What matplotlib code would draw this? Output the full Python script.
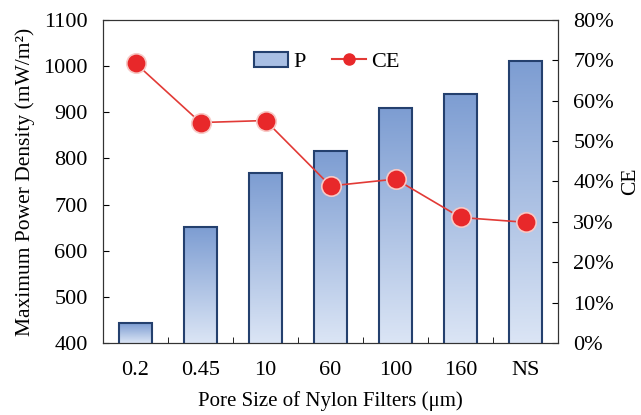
import numpy as np
import matplotlib
matplotlib.use("Agg")
import matplotlib.pyplot as plt
from matplotlib.colors import LinearSegmentedColormap
from matplotlib.ticker import FuncFormatter
from matplotlib.patches import Patch
from matplotlib.lines import Line2D

categories = ["0.2", "0.45", "10", "60", "100", "160", "NS"]
power = [443, 651, 768, 816, 909, 940, 1011]
ce = [69.3, 54.6, 55.1, 38.9, 40.6, 31.1, 29.9]

plt.rcParams['font.family'] = ['Liberation Serif', 'DejaVu Serif']

fig = plt.figure(figsize=(6.41, 4.15), dpi=100)
ax = fig.add_axes([103/641, 1-343/415, (558-103)/641, (343-20)/415])

x = np.arange(len(categories))
edge = '#24406e'
bars = ax.bar(x, power, width=0.51, bottom=0, facecolor='none', edgecolor=edge, linewidth=1.5, zorder=3)
cmap = LinearSegmentedColormap.from_list('g', ['#dbe5f5', '#7d9dd2'])
grad = np.linspace(0, 1, 256).reshape(-1, 1)
for b in bars:
    x0, w, h = b.get_x(), b.get_width(), b.get_height()
    im = ax.imshow(grad, cmap=cmap, aspect='auto', origin='lower',
                   extent=[x0, x0 + w, 400, h], zorder=2, interpolation='bicubic')
    im.set_clip_path(b)

ax.set_xlim(-0.5, len(categories) - 0.5)
ax.set_ylim(400, 1100)
ax.set_yticks(range(400, 1101, 100))
ax.set_xticks(x)
ax.set_xticklabels(categories)
ax.set_xticks(np.arange(0.5, len(categories) - 1, 1), minor=True)
ax.tick_params(axis='x', which='major', length=0, labelsize=16, pad=13)
ax.tick_params(axis='x', which='minor', direction='in', length=4)
ax.tick_params(axis='y', direction='in', length=4, labelsize=16, pad=11)
ax.set_xlabel("Pore Size of Nylon Filters (μm)", fontsize=15, labelpad=8)
ax.set_ylabel("Maximum Power Density (mW/m²)", fontsize=15.5, labelpad=6)
for s in ax.spines.values():
    s.set_color('#333333')

ax2 = ax.twinx()
ax2.plot(x, ce, color='#e23a36', linewidth=1.2, marker='o', markersize=14,
         markerfacecolor='#e8282a', markeredgecolor='#f7c9c6', markeredgewidth=1.2, zorder=5)
ax2.set_ylim(0, 80)
ax2.set_yticks(range(0, 81, 10))
ax2.yaxis.set_major_formatter(FuncFormatter(lambda v, p: f"{int(v)}%"))
ax2.tick_params(axis='y', direction='in', length=4, labelsize=16, pad=11)
ax2.set_ylabel("CE", fontsize=15.5, labelpad=5)
for s in ax2.spines.values():
    s.set_color('#333333')

handles = [Patch(facecolor='#a9bfe4', edgecolor=edge, linewidth=1.5),
           Line2D([0], [0], color='#e23a36', marker='o', markersize=8,
                  markerfacecolor='#e8282a', markeredgecolor='#e8282a')]
ax2.legend(handles, ["P", "CE"], ncol=2, frameon=False, fontsize=16,
           loc='center', bbox_to_anchor=((327 - 103) / 455, 1 - (62 - 20) / 323),
           handlelength=1.5, handletextpad=0.25, columnspacing=1.2)

fig.savefig("out.png", dpi=100)
